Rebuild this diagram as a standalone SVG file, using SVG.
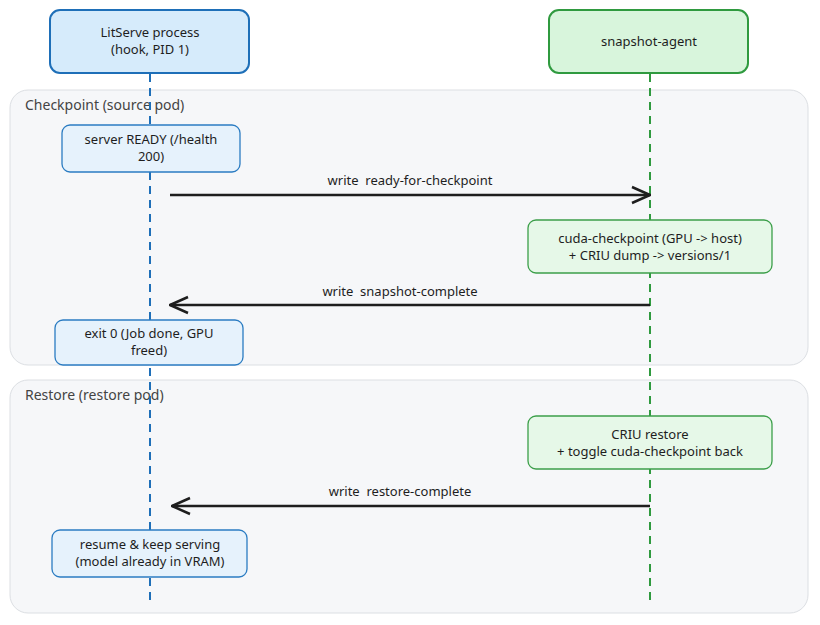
<svg xmlns="http://www.w3.org/2000/svg" width="820" height="625" viewBox="0 0 820 625">
<defs>
<style>
text{font-family:"Noto Sans","Liberation Sans",sans-serif;font-size:13px;fill:#1e1e1e;text-anchor:middle;white-space:pre}
.grp{fill:#f6f7f9;stroke:#dcdfe3;stroke-width:1}
.lbl{text-anchor:start;fill:#444;font-size:14px}
.blue{fill:#d6ebfb;stroke:#1e6fb8;stroke-width:2}
.bluel{fill:#e6f2fc;stroke:#2b7cc2;stroke-width:1.3}
.green{fill:#d8f5dc;stroke:#2f9a3f;stroke-width:2}
.greenl{fill:#e6f8e8;stroke:#3c9f4a;stroke-width:1.3}
.msg{stroke:#1e1e1e;stroke-width:2.5;fill:none}
</style>
<marker id="ah" viewBox="0 0 20 20" refX="19" refY="10" markerWidth="20" markerHeight="20" markerUnits="userSpaceOnUse" orient="auto"><path d="M1,2 L19,10 L1,18" fill="none" stroke="#1e1e1e" stroke-width="2.5"/></marker>
</defs>
<rect width="820" height="625" fill="#fff"/>
<g id="checkpoint-group"><rect class="grp" x="10" y="90" width="798" height="275" rx="18"/><text class="lbl" x="25" y="110">Checkpoint (source pod)</text></g>
<g id="restore-group"><rect class="grp" x="10" y="380" width="798" height="233" rx="18"/><text class="lbl" x="25" y="400">Restore (restore pod)</text></g>
<g id="lifelines">
<line x1="150" y1="74" x2="150" y2="605" stroke="#1e6fb8" stroke-width="2" stroke-dasharray="8,6"/>
<line x1="650" y1="74" x2="650" y2="605" stroke="#2f9a3f" stroke-width="2" stroke-dasharray="8,6"/>
</g>
<g id="connectors">
<line class="msg" x1="170" y1="195" x2="650" y2="195" marker-end="url(#ah)"/>
<text x="410" y="185" xml:space="preserve">write  ready-for-checkpoint</text>
<line class="msg" x1="650" y1="305" x2="170" y2="305" marker-end="url(#ah)"/>
<text x="400" y="296" xml:space="preserve">write  snapshot-complete</text>
<line class="msg" x1="650" y1="506" x2="172" y2="506" marker-end="url(#ah)"/>
<text x="400" y="496" xml:space="preserve">write  restore-complete</text>
</g>
<g id="litserve"><rect class="blue" x="50" y="10" width="199" height="63" rx="10"/><text x="150" y="37">LitServe process</text><text x="150" y="54">(hook, PID 1)</text></g>
<g id="agent"><rect class="green" x="549" y="10" width="199" height="63" rx="10"/><text x="649" y="46">snapshot-agent</text></g>
<g id="ready"><rect class="bluel" x="62" y="125" width="178" height="47" rx="8"/><text x="151" y="144">server READY (/health</text><text x="151" y="161">200)</text></g>
<g id="cuda"><rect class="greenl" x="528" y="220" width="244" height="53" rx="8"/><text x="650" y="243">cuda-checkpoint (GPU -&gt; host)</text><text x="650" y="260">+ CRIU dump -&gt; versions/1</text></g>
<g id="exit"><rect class="bluel" x="55" y="320" width="188" height="45" rx="8"/><text x="149" y="338">exit 0 (Job done, GPU</text><text x="149" y="355">freed)</text></g>
<g id="criu"><rect class="greenl" x="528" y="416" width="244" height="53" rx="8"/><text x="650" y="439">CRIU restore</text><text x="650" y="456">+ toggle cuda-checkpoint back</text></g>
<g id="resume"><rect class="bluel" x="52" y="530" width="195" height="47" rx="8"/><text x="150" y="549">resume &amp; keep serving</text><text x="150" y="566">(model already in VRAM)</text></g>
</svg>
